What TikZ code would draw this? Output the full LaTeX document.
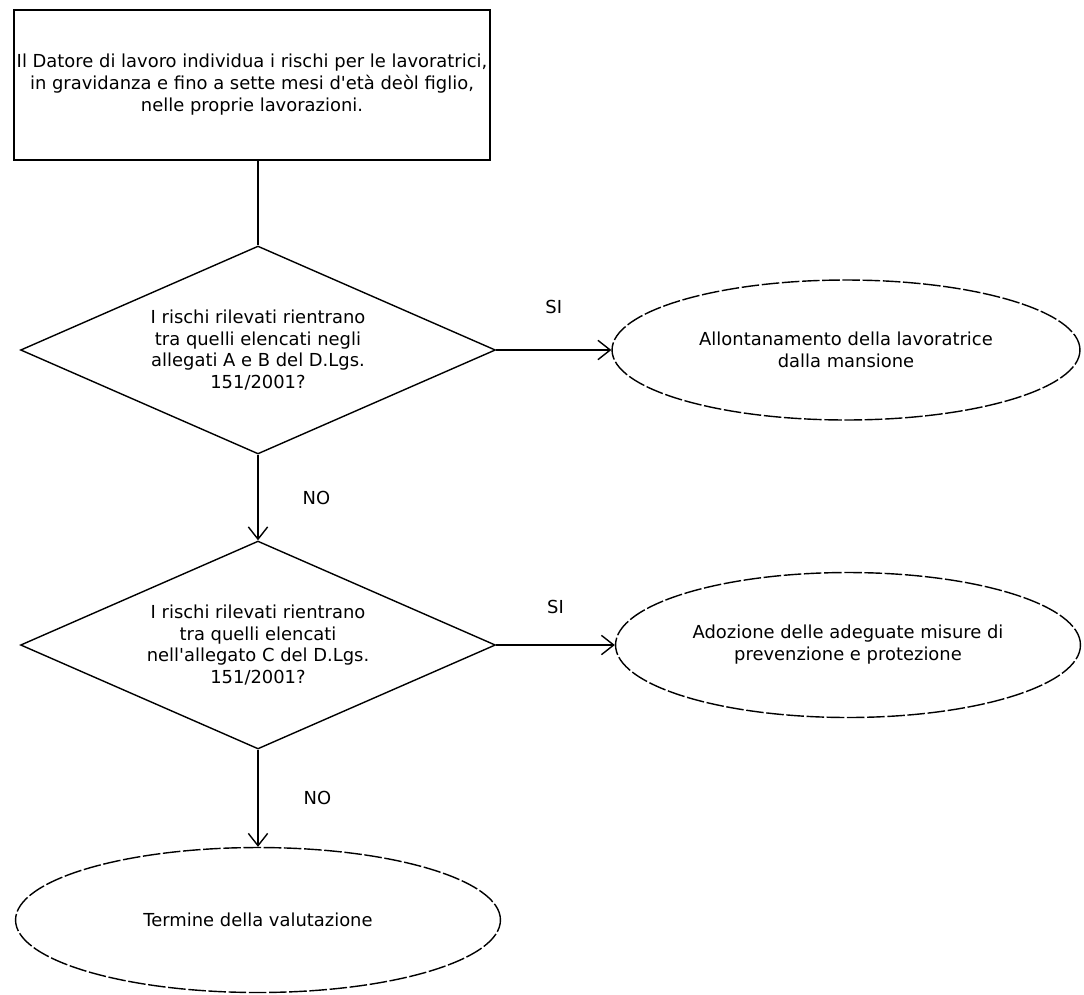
\documentclass[tikz,border=0pt]{standalone}
\usepackage{fontspec}
\setmainfont{DejaVu Sans}
\usetikzlibrary{shapes.geometric,arrows.meta}
\begin{document}
\begin{tikzpicture}[x=0.02cm, y=-0.02cm, line width=0.8pt,
    every node/.style={font=\fontsize{10.2}{12.5}\selectfont, align=center, inner sep=0pt},
    field/.style={draw, rectangle, minimum width=9.52cm, minimum height=3cm},
    question/.style={draw, diamond, shape aspect=2.28, minimum width=9.5cm, minimum height=4.16cm},
    outcome/.style={draw, ellipse, dash pattern=on 10pt off 1.5pt},
    link/.style={draw, -{Straight Barb[length=7pt, width=11pt]}}]
\useasboundingbox (0,0) rectangle (1084,994);

\node [field] (start) at (252,85) {Il Datore di lavoro individua i rischi per le lavoratrici,\\
  in gravidanza e fino a sette mesi d\textquotesingle età deòl figlio,\\ nelle proprie lavorazioni.};

\node [question] (q1) at (258,350) {I rischi rilevati rientrano\\ tra quelli elencati negli\\
  allegati A e B del D.Lgs.\\ 151/2001?};
\node [question] (q2) at (258,645) {I rischi rilevati rientrano\\ tra quelli elencati\\
  nell\textquotesingle allegato C del D.Lgs.\\ 151/2001?};

\node [outcome, minimum width=9.36cm, minimum height=2.8cm] (away) at (846,350)
  {Allontanamento della lavoratrice\\ dalla mansione};
\node [outcome, minimum width=9.3cm, minimum height=2.9cm] (measures) at (848,645)
  {Adozione delle adeguate misure di\\ prevenzione e protezione};
\node [outcome, minimum width=9.7cm, minimum height=2.9cm] (end) at (258,920)
  {Termine della valutazione};

\draw (start.south -| q1.north) -- (q1.north);
\draw [link] (q1.east) -- node [above=0.72cm] {SI} (away.west);
\draw [link] (q1.south) -- node [right=0.88cm] {NO} (q2.north);
\draw [link] (q2.east) -- node [above=0.62cm] {SI} (measures.west);
\draw [link] (q2.south) -- node [right=0.9cm] {NO} (end.north);

\end{tikzpicture}
\end{document}
